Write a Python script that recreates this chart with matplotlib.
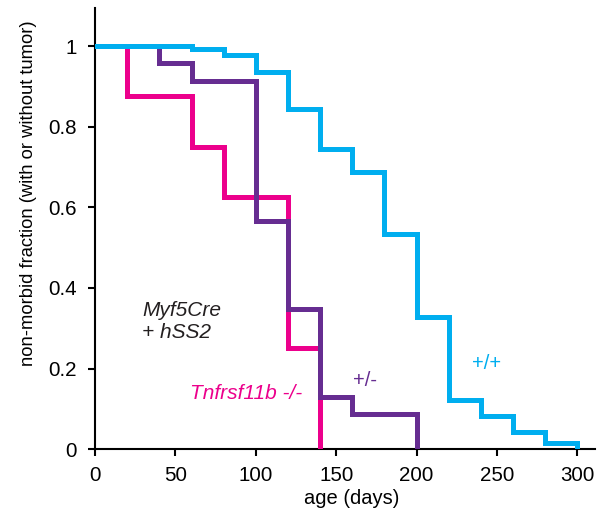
import matplotlib
matplotlib.use("Agg")
import matplotlib.pyplot as plt
from matplotlib.ticker import FixedLocator, FixedFormatter

plt.rcParams['font.family'] = ['Liberation Sans', 'DejaVu Sans']

# Kaplan-Meier style survival curves (time in days, fraction non-morbid)
ko_days = [0, 20, 60, 80, 120, 140]
ko_frac = [1.0, 0.875, 0.75, 0.625, 0.25, 0.0]

het_days = [0, 40, 60, 100, 120, 140, 160, 200]
het_frac = [1.0, 0.957, 0.913, 0.565, 0.348, 0.130, 0.087, 0.0]

wt_days = [0, 60, 80, 100, 120, 140, 160, 180, 200, 220, 240, 260, 280, 300]
wt_frac = [1.0, 0.992, 0.977, 0.935, 0.843, 0.745, 0.688, 0.534, 0.328, 0.123, 0.082, 0.043, 0.016, 0.0]

x_ticks = [0, 50, 100, 150, 200, 250, 300]
y_ticks = [0, 0.2, 0.4, 0.6, 0.8, 1.0]
y_tick_labels = ['0', '0.2', '0.4', '0.6', '0.8', '1']

PINK = '#EC008C'
PURPLE = '#662D91'
CYAN = '#00AEEF'

fig = plt.figure(figsize=(5.98, 5.11), dpi=100)
ax = fig.add_axes([0.159, 0.121, 0.836, 0.863])

lw = 3.6
ax.step(ko_days, ko_frac, where='post', color=PINK, lw=lw, solid_joinstyle='miter', zorder=3)
ax.step(het_days, het_frac, where='post', color=PURPLE, lw=lw, solid_joinstyle='miter', zorder=4)
ax.step(wt_days, wt_frac, where='post', color=CYAN, lw=lw, solid_joinstyle='miter', zorder=5)

ax.set_xlim(0, 311)
ax.set_ylim(0, 1.094)

for s in ['top', 'right']:
    ax.spines[s].set_visible(False)
for s in ['left', 'bottom']:
    ax.spines[s].set_linewidth(1.5)
    ax.spines[s].set_color('black')

ax.xaxis.set_major_locator(FixedLocator(x_ticks))
ax.yaxis.set_major_locator(FixedLocator(y_ticks))
ax.yaxis.set_major_formatter(FixedFormatter(y_tick_labels))
ax.tick_params(axis='both', direction='out', length=5, width=1.5, labelsize=14.8)
ax.tick_params(axis='x', pad=7)
ax.tick_params(axis='y', pad=8)

ax.set_xlabel('age (days)', fontsize=14.5)
ax.xaxis.set_label_coords(0.514, -0.091)
ax.set_ylabel('non-morbid fraction (with or without tumor)', fontsize=13.2)
ax.yaxis.set_label_coords(-0.116, 0.58)

ax.text(29.3, 0.316, 'Myf5Cre\n+ hSS2', fontsize=15, style='italic', color='#231F20',
        ha='left', va='center', linespacing=1.2)
ax.text(59.1, 0.139, 'Tnfrsf11b -/-', fontsize=15, style='italic', color=PINK,
        ha='left', va='center')
ax.text(160.6, 0.171, '+/-', fontsize=14.5, color=PURPLE, ha='left', va='center')
ax.text(234.6, 0.213, '+/+', fontsize=14.5, color=CYAN, ha='left', va='center')

fig.savefig('out.png', dpi=100)
